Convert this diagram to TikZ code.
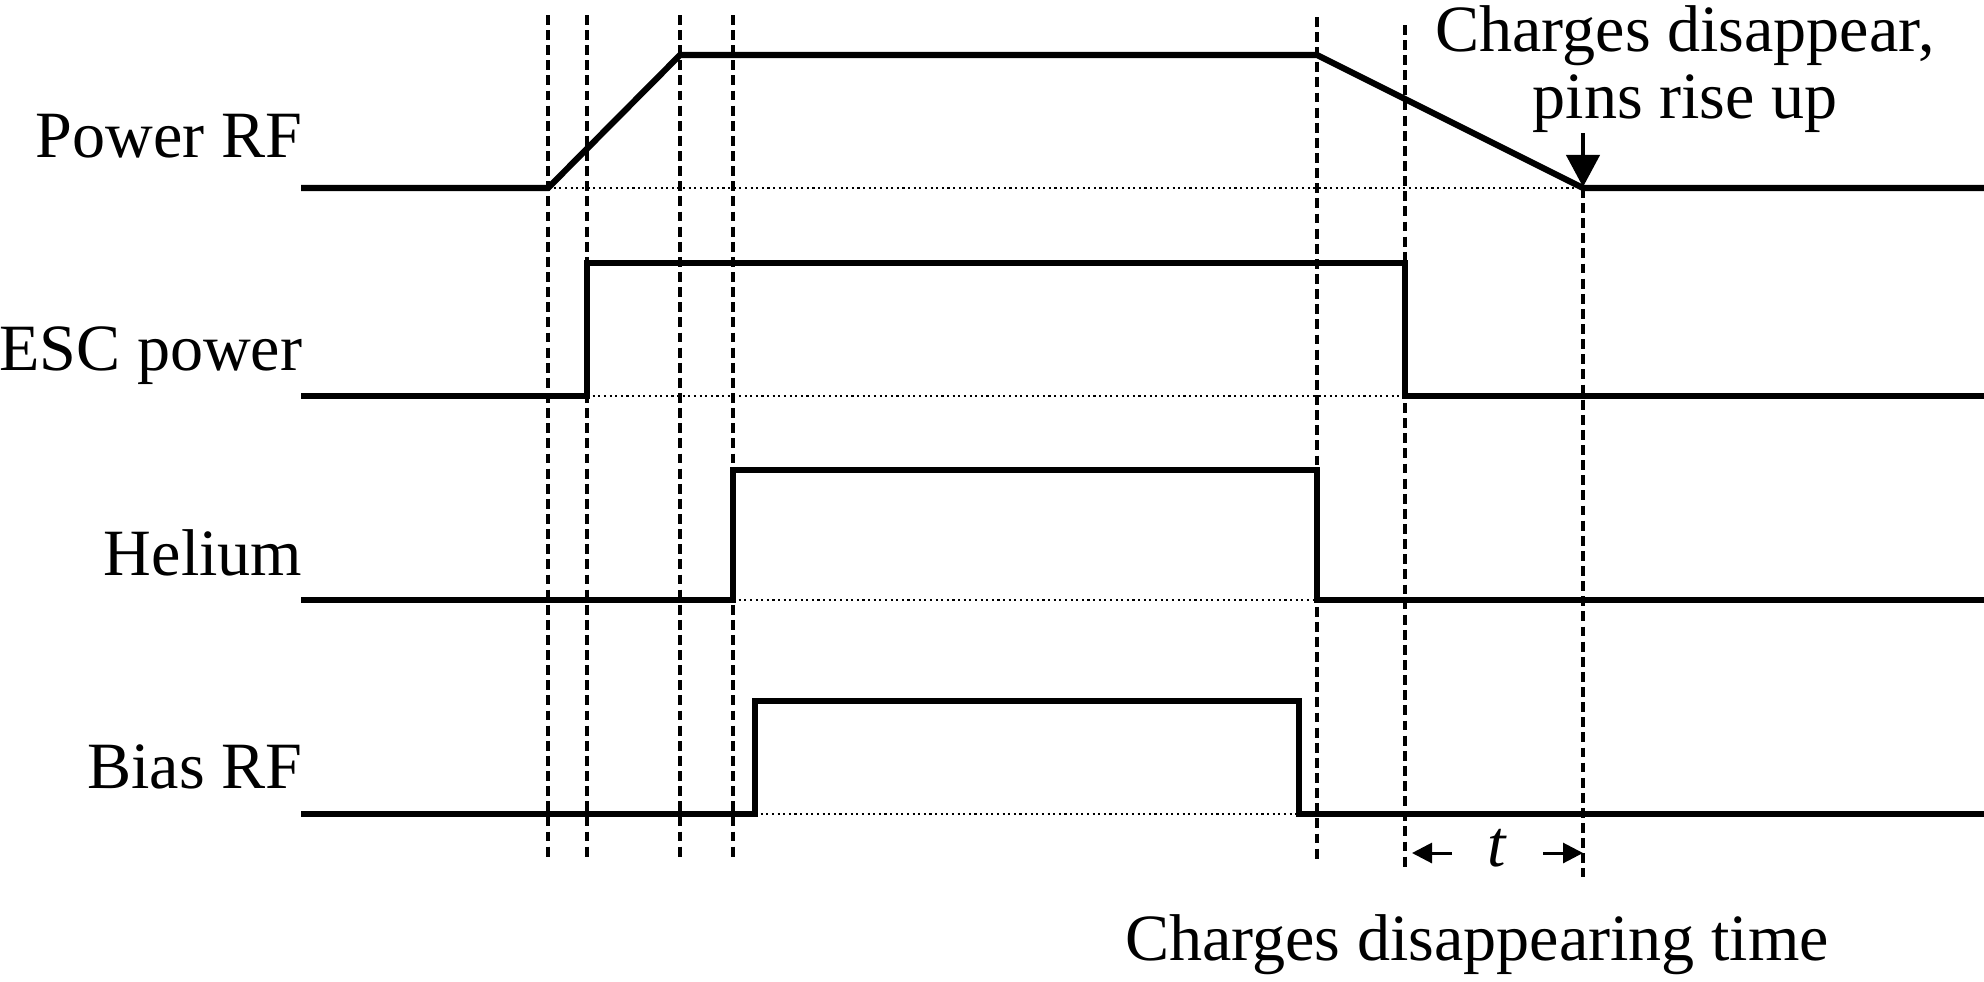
\documentclass[tikz,border=0pt]{standalone}
\usepackage{fontspec}
\setmainfont{Liberation Serif}
\usetikzlibrary{arrows.meta, positioning, calc}

\begin{document}
\begin{tikzpicture}[x=0.01cm, y=-0.01cm,
    signal/.style={line width=1.75pt, line join=miter},
    idle/.style={line width=0.6pt, densely dotted},
    guide/.style={line width=1pt, dash pattern=on 2.8pt off 1.5pt},
    lbl/.style={font=\fontsize{18.8}{19}\selectfont, inner sep=0pt},
    pinarrow/.style={line width=1.2pt, -{Triangle[width=0.33cm, length=0.32cm]}},
    tarrow/.style={line width=0.85pt, -{Triangle[width=0.2cm, length=0.2cm]}}]
\useasboundingbox (0,0) rectangle (1984,981);

% dashed time markers
\foreach \x in {548, 587, 680, 733}
{
    \draw[guide] (\x, 15) -- (\x, 860);
}
\draw[guide] (1317, 17) -- (1317, 860);
\draw[guide] (1405, 25) -- (1405, 867);
\draw[guide] (1583, 188) -- (1583, 877);

% power RF with ramps
\draw[idle] (548, 188) -- (1583, 188);
\draw[signal] (301, 188) -- (548, 188) -- (680, 55) -- (1317, 55) -- (1583, 188) -- (1984, 188);

% ESC power, helium, bias RF
\foreach \yb/\yt/\xr/\xf in {396/263/587/1405, 600/470/733/1317, 814/701/755/1299}
{
    \draw[idle] (\xr, \yb) -- (\xf, \yb);
    \draw[signal] (301, \yb) -- (\xr, \yb) -- (\xr, \yt) -- (\xf, \yt) -- (\xf, \yb) -- (1984, \yb);
}

\node[lbl, anchor=base east] (powerrf) at (303, 157) {Power RF};
\node[lbl, anchor=base east] (escpower) at (303, 370) {ESC power};
\node[lbl, anchor=base east] (helium) at (303, 575) {Helium};
\node[lbl, anchor=base east] (biasrf) at (303, 788) {Bias RF};

\node[lbl, align=center, anchor=base] (pins) at (1685, 118) {Charges disappear,\\pins rise up};
\coordinate (pinstail) at (1583, 133);
\coordinate (pinstip) at (1583, 187);
\draw[pinarrow] (pinstail) -- (pinstip);

\node[lbl, anchor=base] (tlabel) at (1497, 866) {\itshape t};
\coordinate (tleft) at (1452, 853);
\coordinate (tleftend) at (1412, 853);
\coordinate (tright) at (1543, 853);
\coordinate (trightend) at (1583, 853);
\draw[tarrow] (tleft) -- (tleftend);
\draw[tarrow] (tright) -- (trightend);

\node[lbl, anchor=base] (disptime) at (1477, 960) {Charges disappearing time};
\end{tikzpicture}
\end{document}
